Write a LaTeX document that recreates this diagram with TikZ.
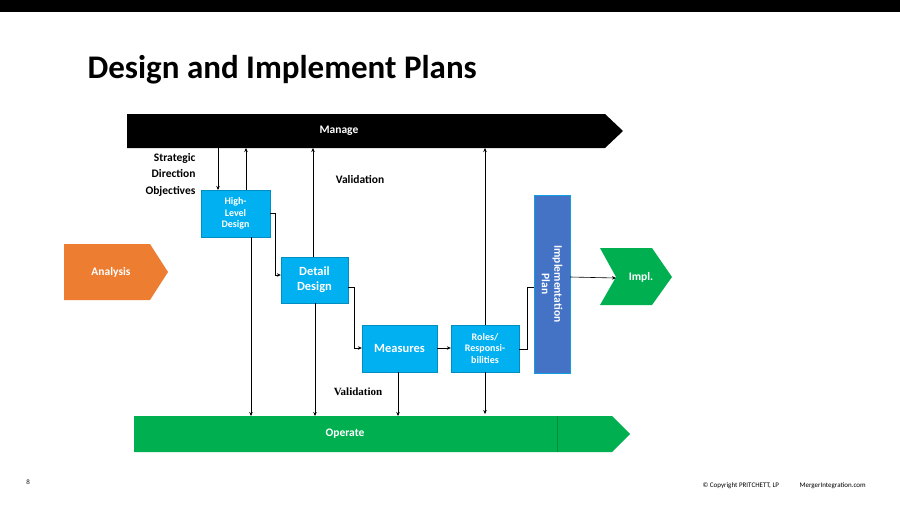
\documentclass[tikz,border=0pt]{standalone}
\usepackage{fontspec}
\setmainfont{Carlito}
\newfontfamily\serifff{Liberation Serif}
\begin{document}
\begin{tikzpicture}[x=1pt,y=-1pt,
 box/.style={fill=cyanb,draw=cyanb!80!black,line width=0.3pt,text=white,font=\bfseries\fontsize{10}{11.5}\selectfont,align=center,inner sep=0pt},
 con/.style={line width=0.6pt,-{Stealth[length=4pt,width=3.5pt]}},
 lbl/.style={font=\bfseries\fontsize{11.5}{13}\selectfont}]
\usetikzlibrary{arrows.meta}
\definecolor{cyanb}{HTML}{00B0F0}
\definecolor{orangeb}{HTML}{ED7D31}
\definecolor{greenb}{HTML}{00B050}
\definecolor{blueb}{HTML}{4472C4}
\useasboundingbox (0,0) rectangle (900,506);
\fill[white] (0,0) rectangle (900,506);
\fill[black] (0,0) rectangle (900,12);
\node[anchor=west,font=\bfseries\fontsize{33}{38}\selectfont] (title) at (84,70) {Design and Implement Plans};
% Manage
\fill[black] (127,114) -- (605,114) -- (623,131) -- (605,148) -- (127,148) -- cycle;
\node[text=white,lbl] (manage) at (339,131) {Manage};
% Operate
\fill[greenb] (134,416) -- (612,416) -- (630,434) -- (612,452) -- (134,452) -- cycle;
\draw[greenb!80!black,line width=0.3pt] (557,416) -- (557,452);
\node[text=white,lbl] (operate) at (345,434) {Operate};
% Analysis
\fill[orangeb] (64,244) -- (150,244) -- (168,272) -- (150,300) -- (64,300) -- cycle;
\node[text=white,lbl] (analysis) at (111,272) {Analysis};
% Impl
\fill[greenb] (600,248) -- (652,248) -- (672,277) -- (652,305) -- (600,305) -- (616,277) -- cycle;
\node[text=white,lbl] (impl) at (641,277) {Impl.};
% boxes
\node[box,minimum width=69pt,minimum height=47pt] (hld) at (235.5,213.5) {High-\\Level\\Design};
\node[box,minimum width=67pt,minimum height=46pt,font=\bfseries\fontsize{12.5}{15}\selectfont] (dd) at (314.5,280) {Detail\\Design};
\node[box,minimum width=75pt,minimum height=47pt,font=\bfseries\fontsize{12.5}{15}\selectfont] (meas) at (399.5,348.5) {Measures};
\node[box,minimum width=68pt,minimum height=47pt] (roles) at (485,348.5) {Roles/\\Responsi-\\bilities};
\node[fill=blueb,draw=cyanb!70!blueb,line width=0.3pt,minimum width=36pt,minimum height=178pt,inner sep=0pt] (ip) at (552,284) {};
\node[rotate=-90,text=white,font=\bfseries\fontsize{11.5}{12.5}\selectfont,align=center] at (ip.center) {Implementation\\Plan};
% labels
\node[lbl,align=right,anchor=north east,font=\bfseries\fontsize{11.5}{16.3}\selectfont] (sdo) at (199,150) {Strategic\\Direction\\Objectives};
\node[lbl] (val1) at (360,179) {Validation};
\node[font=\serifff\bfseries\fontsize{11}{13}\selectfont] (val2) at (358,392) {Validation};
\node[font=\serifff\fontsize{7}{8}\selectfont] (pg) at (28,482) {8};
\node[font=\fontsize{7}{8}\selectfont,anchor=west] (copy) at (699,486) {© Copyright PRITCHETT, LP};
\node[font=\fontsize{7}{8}\selectfont,anchor=west] (web) at (796,486) {MergerIntegration.com};
% coordinates
\coordinate (mT1) at (218,148); \coordinate (mT2) at (246,148); \coordinate (mT3) at (313,148); \coordinate (mT4) at (485,148);
\coordinate (oB1) at (251,416); \coordinate (oB2) at (315,416); \coordinate (oB3) at (398,416); \coordinate (oB4) at (485,414);
\draw[con] (mT1) -- (218,190);
\draw[con] (246,190) -- (mT2);
\draw[con] (251,237) -- (oB1);
\draw[con] (313,257) -- (mT3);
\draw[con] (315,303) -- (oB2);
\draw[con] (hld.east |- 0,213) -- (275,213) -- (275,275) -- (dd.west |- 0,275);
\draw[con] (dd.east |- 0,287) -- (354,287) -- (354,348) -- (meas.west |- 0,348);
\draw[con] (meas.east |- 0,348) -- (roles.west |- 0,348);
\draw[con] (398,372) -- (oB3);
\draw[con] (485,325) -- (mT4);
\draw[con] (485,372) -- (oB4);
\draw[line width=0.6pt] (roles.east |- 0,349) -- (527,349) -- (527,287) -- (ip.west |- 0,287);
\draw[con] (ip.east |- 0,277) -- (616,278);
\end{tikzpicture}
\end{document}
